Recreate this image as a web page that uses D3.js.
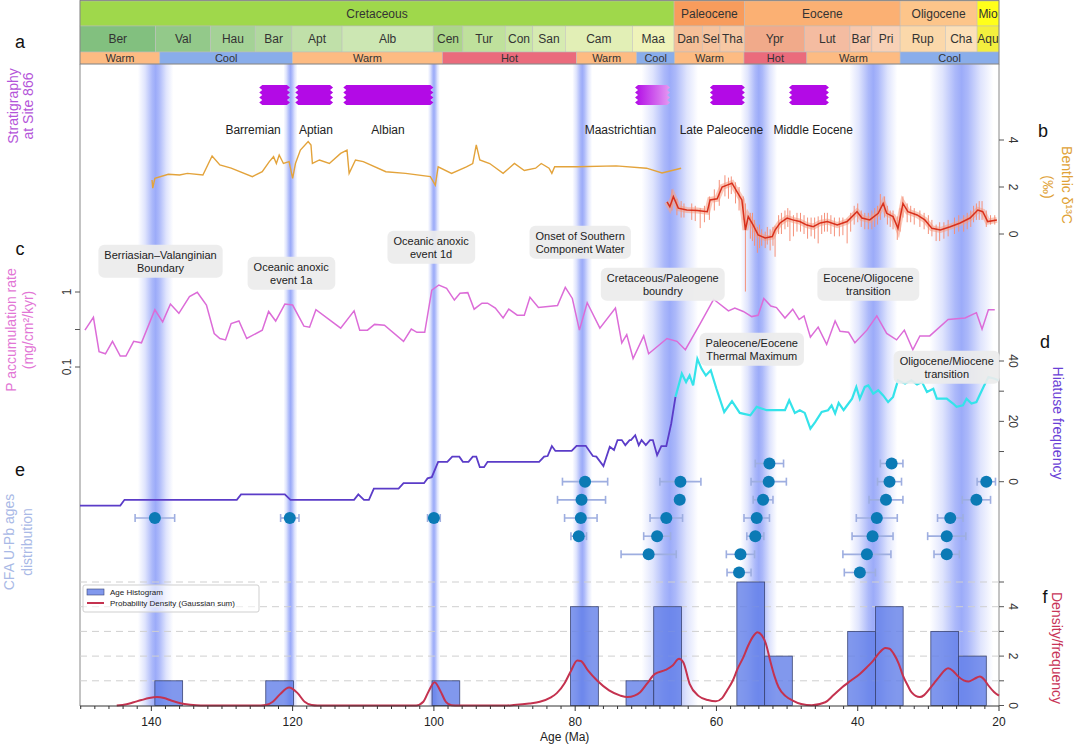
<!DOCTYPE html>
<meta charset="utf-8">
<style>
body { margin: 0; background: #fff; }
svg { font-family: "Liberation Sans", Arial, sans-serif; }
.note rect { fill: #ececec; }
.note text { font-size: 11px; fill: #222; text-anchor: middle; }
</style>
<body>
<script src="https://d3js.org/d3.v7.min.js"></script>
<script>

// ---- time scale rows (ages in Ma) ----
var periodNames = ["Cretaceous", "Paleocene", "Eocene", "Oligocene", "Mio"];
var periodBounds = [150.1, 66.0, 56.0, 34.0, 23.1, 20];
var periodColors = ["#9fd84b", "#f89c5c", "#fbb073", "#fdc58a", "#ffff1a"];

var stageNames = ["Ber","Val","Hau","Bar","Apt","Alb","Cen","Tur","Con","San","Cam","Maa",
                  "Dan","Sel","Tha","Ypr","Lut","Bar","Pri","Rup","Cha","Aqu"];
var stageBounds = [150.1,139.4,131.6,125.3,120.1,113.0,100.1,95.9,89.9,86.0,81.4,71.9,
                   66.0,62.0,59.5,56.0,47.5,41.1,38.0,34.0,27.6,23.1,20];
var stageColors = ["#82c07f","#93c98a","#a4d296","#b1d89f","#c0e0a9","#cce7b3","#acd68a","#bfe19c",
                   "#c9e6a6","#d6ebb1","#e2efb6","#eff3ba","#f5bf98","#f6c49f","#f6c8a4","#f1aa8a",
                   "#f4bca1","#f7c8ad","#f8d1b7","#fbd8aa","#fce0b9","#f3ef3e"];

var climateNames = ["Warm","Cool","Warm","Hot","Warm","Cool","Warm","Hot","Warm","Cool"];
var climateBounds = [150.1,138.8,120.0,98.8,79.8,71.3,65.9,56.1,47.2,34.0,20];
var climateColor = {Warm: "#fdbb82", Cool: "#89adea", Hot: "#ea6b7c"};

// ---- highlighted intervals (blue bands) ----
var bandAge = [139.4, 120.3, 100.0, 79.0, 66.6, 54.0, 37.8, 25.3];
var bandHalf = [2.5, 1.0, 0.85, 1.4, 4.0, 2.6, 3.4, 4.5];

// ---- stratigraphy at Site 866 ----
var stratNames = ["Barremian","Aptian","Albian","Maastrichtian","Late Paleocene","Middle Eocene"];
var stratOld = [124.3, 119.2, 112.4, 71.1, 60.5, 49.3];
var stratYoung = [120.8, 114.7, 100.5, 67.0, 56.4, 44.5];
var stratLabelAge = [125.6, 116.7, 106.5, 73.6, 59.3, 46.3];

// ---- benthic d13C ----
var benthicCretaceous = [[139.9,2.3],[139.8,1.95],[139.5,2.37],[137.6,2.54],[136.0,2.51],[134.9,2.58],[132.7,2.51],
  [131.4,3.32],[130.3,2.94],[128.7,2.8],[125.7,2.44],[124.3,2.65],[123.3,3.08],[122.7,3.29],[122.3,3.0],
  [121.9,3.36],[121.3,3.0],[120.5,3.08],[120.0,2.37],[119.6,3.0],[118.9,3.57],[117.8,3.93],[117.4,3.79],
  [117.2,3.0],[116.2,3.15],[114.8,3.0],[113.2,3.43],[112.3,3.57],[112.0,2.58],[111.1,3.15],[110.0,3.08],
  [106.8,2.65],[104.0,2.58],[100.5,2.44],[99.8,2.08],[99.4,2.86],[97.5,2.58],[95.4,2.86],[94.5,3.0],
  [94.0,3.79],[93.5,3.15],[92.1,3.0],[90.2,2.58],[88.6,3.0],[87.2,2.7],[85.6,2.8],[84.8,3.0],[83.7,2.8],
  [83.3,2.58],[82.9,2.86],[79.7,2.86],[74.2,2.9],[69.9,2.8],[67.7,2.6],[65.0,2.8]];
var benthicCenozoic = [[67.0,1.37],[66.6,1.16],[66.1,1.59],[65.4,1.1],[64.2,1.02],[62.7,1.0],[61.3,0.95],
  [60.9,1.45],[59.9,1.5],[59.2,2.0],[58.5,2.08],[57.8,2.16],[57.1,1.8],[56.4,1.45],[55.9,0.17],[55.5,0.74],
  [54.8,0.38],[54.1,-0.04],[53.1,-0.17],[52.1,-0.11],[51.7,0.17],[51.0,0.47],[50.0,0.68],[49.2,0.6],
  [48.2,0.53],[47.2,0.38],[46.3,0.31],[45.3,0.47],[44.3,0.53],[42.9,0.38],[41.5,0.53],[40.1,0.95],
  [39.4,0.68],[38.3,0.6],[37.1,0.88],[36.4,1.3],[35.9,0.88],[35.0,0.74],[34.3,0.24],[33.6,1.3],[32.9,0.95],
  [31.6,0.81],[30.5,0.6],[29.5,0.24],[28.3,0.17],[26.9,0.31],[25.5,0.47],[24.1,0.68],[23.0,1.02],
  [22.3,0.95],[21.6,0.53],[20.3,0.6]];
// raw-data excursions around the smoothed Cenozoic record: [age, high, low]
var benthicSpikes = [[66.3,1.9,1.0],[65.6,1.5,0.8],[65.0,1.4,0.7],[64.6,1.3,0.7],[63.5,1.3,0.6],[63.0,1.2,0.55],
  [62.3,1.1,0.25],[61.7,1.2,0.5],[61.0,1.6,0.6],[60.3,1.9,1.0],[59.6,2.3,1.2],[58.8,2.5,1.6],[58.3,2.4,1.5],
  [57.9,2.45,1.7],[57.3,2.2,1.3],[56.8,2.0,1.0],[56.2,1.6,0.6],[55.9,1.3,-2.45],[55.2,0.9,-0.2],
  [54.9,0.9,-0.3],[54.6,0.6,-0.5],[54.2,0.3,-0.8],[53.9,0.4,-0.6],[53.6,0.2,-0.5],[53.1,0.1,-0.6],
  [52.8,0.3,-0.45],[52.4,0.2,-0.7],[52.0,0.3,-0.5],[51.7,0.35,-0.97],[51.2,0.8,0.0],[50.8,0.9,0.0],
  [50.3,1.0,0.2],[49.9,1.1,0.3],[49.6,1.0,-0.3],[49.1,0.8,-0.1],[48.6,0.9,0.1],[48.1,0.9,0.1],
  [47.6,0.8,0.0],[47.1,0.7,-0.2],[46.6,0.7,-0.1],[46.1,0.7,-0.2],[45.6,0.75,-0.4],[45.1,0.8,0.0],
  [44.7,0.9,0.1],[44.3,0.9,0.1],[43.8,0.8,0.0],[43.3,0.7,-0.1],[42.6,0.7,-0.1],[42.1,0.7,-0.05],
  [41.5,0.65,-0.4],[41.0,0.9,0.1],[40.5,1.2,0.4],[40.0,1.3,0.5],[39.5,1.0,0.3],[39.0,0.9,0.2],
  [38.5,0.9,0.2],[38.0,1.0,0.2],[37.6,1.1,0.3],[37.2,1.2,0.4],[36.8,1.7,0.6],[36.2,1.6,0.7],
  [35.8,1.2,0.4],[35.4,1.0,0.3],[35.0,1.0,0.2],[34.4,0.75,-0.25],[34.0,1.1,0.1],[33.6,1.6,0.7],
  [33.0,1.3,0.5],[32.5,1.2,0.5],[32.0,1.1,0.4],[31.2,1.0,0.3],[30.6,0.9,0.2],[30.0,0.8,0.0],
  [29.5,0.6,-0.1],[28.9,0.4,-0.3],[28.4,0.5,-0.3],[27.8,0.5,-0.2],[27.2,0.6,-0.1],[26.3,0.7,0.0],
  [25.7,0.8,0.1],[25.0,0.8,0.1],[24.5,0.9,0.2],[24.0,1.0,0.3],[23.6,1.2,0.5],[23.2,1.3,0.6],
  [22.8,1.4,0.6],[22.4,1.4,0.6],[21.8,1.0,0.3],[21.2,0.8,0.4],[20.6,0.8,0.4]];

// ---- P accumulation rate (mg/cm2/kyr) ----
var pRate = [[149.4,0.31],[148.2,0.46],[147.4,0.16],[146.5,0.15],[145.5,0.22],[144.4,0.14],[143.6,0.14],
  [142.5,0.22],[141.4,0.21],[139.5,0.58],[138.4,0.40],[137.3,0.69],[136.1,0.52],[134.6,0.87],[133.5,0.99],
  [132.2,0.67],[131.1,0.28],[130.3,0.24],[129.5,0.23],[128.7,0.38],[127.6,0.41],[126.5,0.24],[124.3,0.31],
  [123.4,0.55],[122.4,0.41],[121.1,0.69],[120.0,0.67],[118.4,0.35],[117.6,0.34],[116.7,0.58],[113.2,0.33],
  [111.3,0.56],[110.5,0.31],[109.4,0.31],[108.4,0.37],[107.0,0.36],[104.3,0.22],[103.2,0.32],[102.4,0.29],
  [101.3,0.29],[100.3,1.06],[99.3,1.24],[98.2,1.12],[97.1,0.78],[96.3,0.96],[95.2,0.98],[94.3,0.59],
  [93.2,0.71],[92.4,0.71],[91.3,0.61],[90.2,0.45],[89.4,0.59],[88.2,0.49],[87.2,0.49],[86.4,0.85],
  [85.2,0.62],[82.5,0.66],[81.4,1.15],[80.4,0.82],[79.4,0.31],[78.3,0.72],[76.5,0.33],[74.3,0.61],
  [73.4,0.21],[72.7,0.27],[71.8,0.13],[70.3,0.26],[69.6,0.15],[67.0,0.24],[65.6,0.22],[64.4,0.17],
  [62.3,0.38],[60.4,0.80],[58.3,0.56],[57.4,0.61],[56.2,0.55],[55.0,0.47],[54.1,0.49],[53.3,0.82],
  [52.3,0.65],[51.5,0.62],[50.3,0.45],[49.2,0.59],[48.3,0.43],[47.6,0.48],[46.7,0.25],[45.6,0.34],
  [44.4,0.20],[43.2,0.41],[42.5,0.30],[41.3,0.29],[40.4,0.21],[38.7,0.31],[37.3,0.48],[35.9,0.28],
  [34.5,0.23],[33.4,0.31],[32.2,0.17],[31.2,0.26],[29.8,0.26],[27.2,0.43],[24.8,0.45],[23.2,0.53],
  [22.4,0.32],[21.5,0.58],[20.6,0.58]];

// ---- hiatus frequency ----
var hiatusMesozoic = [[150.1,-7.9],[144.4,-7.9],[143.8,-6.0],[127.9,-6.0],[127.3,-4.2],[121.1,-4.2],[120.3,-6.0],
  [111.3,-6.0],[110.7,-4.2],[109.9,-6.0],[109.2,-6.0],[108.5,-2.3],[105.0,-2.3],[104.3,-0.5],[101.4,-0.5],
  [100.9,1.1],[100.3,1.5],[99.4,6.6],[98.1,6.6],[97.4,8.3],[96.4,8.3],[95.9,6.6],[95.1,6.6],[94.5,8.3],
  [94.0,8.3],[93.5,4.8],[92.9,4.8],[92.4,6.6],[85.1,6.6],[84.4,8.3],[83.9,8.5],[83.3,11.8],[82.8,10.2],
  [80.5,10.2],[79.8,11.9],[78.5,11.9],[77.5,8.5],[77.0,8.3],[76.0,5.2],[75.1,11.6],[74.5,10.5],[74.0,13.8],
  [73.4,13.8],[72.9,12.1],[72.3,13.8],[72.1,13.8],[71.5,15.4],[71.0,12.1],[70.6,13.8],[70.0,12.1],
  [69.4,13.8],[69.0,13.8],[68.4,8.8],[67.8,11.8],[67.1,11.8],[66.4,19.3],[65.8,28.1]];
var hiatusCenozoic = [[65.8,28.1],[64.9,35.8],[64.3,33.0],[63.8,35.2],[63.3,31.9],[62.7,40.7],[62.1,37.4],
  [61.5,35.2],[60.8,36.9],[60.0,30.8],[58.9,23.1],[57.8,26.7],[56.7,22.8],[55.2,22.0],[54.3,24.8],
  [52.9,23.7],[50.3,23.7],[49.7,27.0],[48.9,22.8],[48.2,23.7],[47.5,22.8],[46.7,17.6],[46.0,19.8],
  [45.1,23.1],[44.2,23.7],[43.7,25.3],[43.2,22.6],[42.7,26.1],[42.0,23.7],[41.6,25.0],[40.8,27.5],
  [40.2,31.4],[39.7,27.5],[39.0,31.4],[38.5,31.9],[37.8,29.2],[37.1,30.3],[36.4,28.6],[35.7,26.4],
  [35.0,28.1],[34.3,33.6],[33.3,32.5],[32.4,33.6],[31.6,32.2],[30.9,33.0],[30.2,29.7],[29.3,30.8],
  [28.8,27.5],[27.4,27.5],[26.5,25.9],[26.0,24.8],[25.1,25.3],[24.6,27.5],[23.9,25.9],[23.2,26.4],
  [22.2,31.4],[21.5,34.7],[20.6,34.1],[20.1,33.6]];

// ---- CFA U-Pb ages (Ma, 2 sigma) ----
var cfaAge = [139.5,120.4,100.0, 78.6,79.1,79.2,79.5, 65.1,65.2,67.1,68.4,69.6,
              52.5,52.6,53.4,54.3,54.5,56.6,56.8, 35.2,35.5,36.0,37.3,37.9,38.7,39.7,
              21.8,23.2,26.9,27.4,27.4];
var cfaErr = [2.8,1.3,0.9, 3.2,3.4,2.3,1.1, 2.9,0.6,2.3,1.9,3.9,
              2.0,2.5,1.4,1.8,1.2,2.0,1.7, 1.6,1.7,2.4,2.9,2.9,3.4,2.2,
              1.3,2.0,1.8,2.7,1.8];
var cfaRow = [3,3,3, 1,2,3,4, 1,2,3,4,5, 0,1,2,3,4,5,6, 0,1,2,3,4,5,6, 1,2,3,4,5];

// ---- age histogram [older edge, younger edge, count] and density ----
var histBins = [[139.5,135.57,1],[123.8,119.88,1],[100.26,96.34,1],[80.65,76.72,4],[72.8,68.88,1],
  [68.88,64.95,4],[57.11,53.18,5],[53.18,49.26,2],[41.42,37.49,3],[37.49,33.57,4],[29.65,25.72,3],[25.72,21.8,2]];
var density = [[144.9,0],[143.5,0.05],[142.5,0.13],[141.4,0.22],[140.3,0.3],[139.2,0.34],[138.2,0.3],
  [137.2,0.2],[135.9,0.09],[134.5,0.03],[133.0,0],[124.5,0],[123.8,0.02],[122.8,0.15],[121.8,0.45],
  [120.5,0.73],[119.3,0.5],[118.3,0.15],[117.3,0.02],[116.5,0],[102.5,0],[101.5,0.15],[100.7,0.6],
  [99.9,0.94],[99.1,0.6],[98.3,0.15],[97.5,0.01],[96.5,0],[90.0,0],[88.7,0.02],[86.5,0.08],[85.0,0.15],
  [83.5,0.32],[82.6,0.5],[81.5,0.9],[80.6,1.4],[79.7,1.82],[79.2,1.8],[78.2,1.42],[76.9,1.01],[75.2,0.61],
  [73.6,0.4],[72.6,0.34],[71.6,0.4],[70.8,0.54],[69.8,0.9],[68.7,1.28],[67.2,1.44],[66.2,1.62],[65.3,1.89],
  [64.7,1.75],[63.8,0.88],[62.6,0.40],[61.2,0.22],[60.1,0.17],[59.2,0.3],[58.5,0.61],[57.7,1.0],[57.0,1.49],
  [56.2,1.95],[55.5,2.43],[54.8,2.8],[54.2,2.97],[53.6,2.85],[53.0,2.5],[52.4,1.82],[51.8,1.2],[51.2,0.74],
  [50.2,0.38],[49.2,0.2],[48.0,0.06],[46.5,0.01],[44.6,0.13],[43.5,0.4],[42.2,0.74],[41.0,1.0],[39.7,1.28],
  [38.7,1.55],[37.8,1.82],[36.9,2.15],[36.1,2.33],[35.5,2.3],[34.9,2.09],[34.2,1.7],[33.6,1.21],[32.9,0.8],
  [32.4,0.54],[31.2,0.34],[30.6,0.42],[30.0,0.61],[29.2,0.9],[28.5,1.15],[27.2,1.51],[26.5,1.4],[25.9,1.21],
  [25.0,1.02],[24.3,0.97],[23.5,1.08],[22.7,1.17],[22.1,1.05],[21.5,0.81],[20.7,0.55],[20.0,0.4]];

// ---- event notes ----
var noteText = [["Berriasian\u2013Valanginian","Boundary"],["Oceanic anoxic","event 1a"],["Oceanic anoxic","event 1d"],
  ["Onset of Southern","Component Water"],["Cretaceous/Paleogene","boundry"],["Eocene/Oligocene","transition"],
  ["Paleocene/Eocene","Thermal Maximum"],["Oligocene/Miocene","transition"]];
var noteAge = [138.7, 120.2, 100.4, 79.3, 67.6, 38.5, 55.0, 27.4];
var noteLineY = [255, 267, 241, 236, 278, 278, 343, 361];   // layout: first text line

var xTicks = [140, 120, 100, 80, 60, 40, 20];

// ================= drawing =================
var svg = d3.select("body").append("svg").attr("width", 1080).attr("height", 746);
var defs = svg.append("defs");

var x = d3.scaleLinear().domain([150.1, 20]).range([80, 999]);
var yB = d3.scaleLinear().domain([0, 4]).range([234, 140]);
var yP = d3.scaleLog().domain([0.1, 1]).range([367, 292]);
var yH = d3.scaleLinear().domain([0, 40]).range([481.7, 361]);
var yD = d3.scaleLinear().domain([0, 5]).range([705.5, 582]);
var yRow = d3.scaleLinear().domain([0, 6]).range([463.5, 572.5]);

var bandGrad = defs.append("linearGradient").attr("id", "band");
[[0,0],[0.2,0.2],[0.4,0.52],[0.5,0.62],[0.6,0.52],[0.8,0.2],[1,0]].forEach(function(s){
  bandGrad.append("stop").attr("offset", s[0]).attr("stop-color", "rgb(95,120,245)").attr("stop-opacity", s[1]);
});
var maaGrad = defs.append("linearGradient").attr("id", "maa");
maaGrad.append("stop").attr("offset", 0).attr("stop-color", "#b20ae6");
maaGrad.append("stop").attr("offset", 1).attr("stop-color", "#e59af2");

// blue bands
svg.append("g").selectAll("rect").data(bandAge).join("rect")
  .attr("x", (d,i) => x(d + bandHalf[i]))
  .attr("width", (d,i) => x(d - bandHalf[i]) - x(d + bandHalf[i]))
  .attr("y", 64).attr("height", 642)
  .attr("fill", "url(#band)");

// time-scale rows
function timeRow(names, bounds, colorOf, y0, h, fs){
  var g = svg.append("g");
  names.forEach(function(n, i){
    var x0 = x(bounds[i]), x1 = x(bounds[i+1]);
    g.append("rect").attr("x", x0).attr("y", y0).attr("width", x1 - x0).attr("height", h)
      .attr("fill", colorOf(n, i)).attr("stroke", "#bdbdbd").attr("stroke-width", 0.5);
    g.append("text").attr("x", (x0 + x1) / 2).attr("y", y0 + h / 2).attr("dy", "0.35em")
      .attr("text-anchor", "middle").attr("font-size", fs).attr("fill", "#333").text(n);
  });
}
timeRow(periodNames, periodBounds, (n,i) => periodColors[i], 1, 25, 12);
timeRow(stageNames, stageBounds, (n,i) => stageColors[i], 26, 26, 12);
timeRow(climateNames, climateBounds, n => climateColor[n], 52, 12, 11);
svg.append("rect").attr("x", 80).attr("y", 0.5).attr("width", 919).attr("height", 63.5)
  .attr("fill", "none").attr("stroke", "#777").attr("stroke-width", 0.8);

// frame lines
svg.append("line").attr("x1", 80).attr("x2", 80).attr("y1", 64).attr("y2", 706).attr("stroke", "#888");
svg.append("line").attr("x1", 999).attr("x2", 999).attr("y1", 64).attr("y2", 706).attr("stroke", "#888");

// stratigraphy bars
function zigBar(x0, x1, y0, y1){
  var n = 8, a = 3, p = [[x0, y0], [x1, y0]];
  for (var k = 1; k <= n; k++) p.push([k % 2 ? x1 + a : x1, y0 + k * (y1 - y0) / n]);
  p.push([x0, y1]);
  for (k = 1; k <= n; k++) p.push([k % 2 ? x0 - a : x0, y1 - k * (y1 - y0) / n]);
  return "M" + p.map(q => q.join(",")).join("L") + "Z";
}
var strat = svg.append("g");
stratNames.forEach(function(n, i){
  strat.append("path").attr("d", zigBar(x(stratOld[i]), x(stratYoung[i]), 85, 105))
    .attr("fill", n === "Maastrichtian" ? "url(#maa)" : "#b30ae6");
  strat.append("text").attr("x", x(stratLabelAge[i])).attr("y", 134).attr("text-anchor", "middle")
    .attr("font-size", 12).attr("fill", "#222").text(n);
});

// benthic d13C
var lineB = d3.line().x(d => x(d[0])).y(d => yB(d[1]));
svg.append("path").attr("d", lineB(benthicCretaceous)).attr("fill", "none")
  .attr("stroke", "#e3a33b").attr("stroke-width", 1.4);
svg.append("path").attr("d", lineB(benthicCenozoic)).attr("fill", "none")
  .attr("stroke", "#f7a48a").attr("stroke-width", 6).attr("stroke-opacity", 0.6);
svg.append("g").selectAll("line").data(benthicSpikes).join("line")
  .attr("x1", d => x(d[0])).attr("x2", d => x(d[0]))
  .attr("y1", d => yB(d[1])).attr("y2", d => yB(d[2]))
  .attr("stroke", "#f5917a").attr("stroke-width", 1);
svg.append("path").attr("d", lineB(benthicCenozoic)).attr("fill", "none")
  .attr("stroke", "#d8301c").attr("stroke-width", 1.5);

// P accumulation
svg.append("path").attr("d", d3.line().x(d => x(d[0])).y(d => yP(d[1]))(pRate))
  .attr("fill", "none").attr("stroke", "#dc6cd8").attr("stroke-width", 1.5);

// hiatus
var lineH = d3.line().x(d => x(d[0])).y(d => yH(d[1]));
svg.append("path").attr("d", lineH(hiatusMesozoic)).attr("fill", "none")
  .attr("stroke", "#5b3cc8").attr("stroke-width", 1.8);
svg.append("path").attr("d", lineH(hiatusCenozoic)).attr("fill", "none")
  .attr("stroke", "#34e3ea").attr("stroke-width", 2.2);

// notes
var notes = svg.append("g").attr("class", "note");
noteText.forEach(function(t, i){
  var g = notes.append("g");
  var cx = x(noteAge[i]), y1 = noteLineY[i];
  var r = g.append("rect");
  var txt = g.append("text");
  t.forEach(function(s, j){
    txt.append("tspan").attr("x", cx).attr("y", y1 + j * 13).attr("dy", "0.35em").text(s);
  });
  var bb = txt.node().getBBox();
  r.attr("x", bb.x - 6).attr("y", bb.y - 4).attr("width", bb.width + 12).attr("height", bb.height + 8)
    .attr("rx", 6).attr("fill-opacity", 0.92);
});

// CFA ages
var cfa = svg.append("g");
cfaAge.forEach(function(a, i){
  var y = yRow(cfaRow[i]), xa = x(a + cfaErr[i]), xb = x(a - cfaErr[i]);
  cfa.append("line").attr("x1", xa).attr("x2", xb).attr("y1", y).attr("y2", y)
    .attr("stroke", "#9eaee0").attr("stroke-width", 1.6);
  [xa, xb].forEach(function(xc){
    cfa.append("line").attr("x1", xc).attr("x2", xc).attr("y1", y - 4).attr("y2", y + 4)
      .attr("stroke", "#9eaee0").attr("stroke-width", 1.6);
  });
});
cfa.selectAll("circle").data(cfaAge).join("circle")
  .attr("cx", d => x(d)).attr("cy", (d,i) => yRow(cfaRow[i])).attr("r", 6)
  .attr("fill", "#0b7ab5");

// histogram grid
svg.append("g").selectAll("line").data([1,2,3,4,5]).join("line")
  .attr("x1", 80).attr("x2", 999).attr("y1", d => yD(d)).attr("y2", d => yD(d))
  .attr("stroke", "#cfcfcf").attr("stroke-dasharray", "7,5");

svg.append("g").selectAll("rect").data(histBins).join("rect")
  .attr("x", d => x(d[0])).attr("width", d => x(d[1]) - x(d[0]))
  .attr("y", d => yD(d[2])).attr("height", d => yD(0) - yD(d[2]))
  .attr("fill", "rgb(98,126,232)").attr("fill-opacity", 0.8)
  .attr("stroke", "#3b4575").attr("stroke-width", 0.8);

svg.append("path").attr("d", d3.line().x(d => x(d[0])).y(d => yD(d[1])).curve(d3.curveMonotoneX)(density))
  .attr("fill", "none").attr("stroke", "#c4324f").attr("stroke-width", 2);

// legend
var lg = svg.append("g");
lg.append("rect").attr("x", 83).attr("y", 585).attr("width", 176).attr("height", 27).attr("rx", 2)
  .attr("fill", "#fff").attr("fill-opacity", 0.6).attr("stroke", "#cfcfcf");
lg.append("rect").attr("x", 87).attr("y", 589).attr("width", 17).attr("height", 6)
  .attr("fill", "rgb(98,126,232)").attr("fill-opacity", 0.8).attr("stroke", "#3b4575").attr("stroke-width", 0.6);
lg.append("line").attr("x1", 87).attr("x2", 104).attr("y1", 603).attr("y2", 603)
  .attr("stroke", "#c4324f").attr("stroke-width", 2);
lg.append("text").attr("x", 110).attr("y", 595).attr("font-size", 8).attr("fill", "#222").text("Age Histogram");
lg.append("text").attr("x", 110).attr("y", 606).attr("font-size", 8).attr("fill", "#222")
  .text("Probability Density (Gaussian sum)");

// x axis
var ax = svg.append("g");
ax.append("line").attr("x1", 80).attr("x2", 999).attr("y1", 706).attr("y2", 706).attr("stroke", "#333");
ax.selectAll(".minor").data(d3.range(20, 151, 2)).join("line")
  .attr("x1", d => x(d)).attr("x2", d => x(d)).attr("y1", 706).attr("y2", d => d % 20 ? 709 : 711)
  .attr("stroke", "#333");
ax.selectAll("text").data(xTicks).join("text")
  .attr("x", d => x(d)).attr("y", 726).attr("text-anchor", "middle")
  .attr("font-size", 12).attr("fill", "#222").text(d => d);
svg.append("text").attr("x", 540).attr("y", 741).attr("font-size", 12).attr("fill", "#222").text("Age (Ma)");

// vertical axes ticks
function rText(px, py, ang, str, color, fs){
  return svg.append("text").attr("transform", "translate(" + px + "," + py + ") rotate(" + ang + ")")
    .attr("text-anchor", "middle").attr("dy", "0.35em").attr("font-size", fs).attr("fill", color).text(str);
}
function rightTicks(scale, vals, labelled){
  vals.forEach(function(v){
    svg.append("line").attr("x1", 999).attr("x2", 1004).attr("y1", scale(v)).attr("y2", scale(v)).attr("stroke", "#555");
    if (labelled.indexOf(v) >= 0) rText(1013, scale(v), 90, v, "#333", 12);
  });
}
rightTicks(yB, [0, 2, 4], [0, 2, 4]);
rightTicks(yH, [0, 10, 20, 30, 40], [0, 20, 40]);
rightTicks(yD, [0, 1, 2, 3, 4, 5], [0, 2, 4]);
[1, Math.sqrt(0.1), 0.1].forEach(function(v){
  svg.append("line").attr("x1", 75).attr("x2", 80).attr("y1", yP(v)).attr("y2", yP(v)).attr("stroke", "#555");
});
rText(67, yP(1), -90, "1", "#333", 12);
rText(67, yP(0.1), -90, "0.1", "#333", 12);

// axis titles
rText(13, 106, -90, "Stratigraphy", "#b455d9", 14);
rText(28, 106, -90, "at Site 866", "#b455d9", 14);
rText(11, 330, -90, "P accumulation rate", "#e276d5", 14);
rText(28, 330, -90, "(mg/cm\u00b2/kyr)", "#e276d5", 14);
rText(9, 542, -90, "CFA  U-Pb ages", "#a9b9e6", 14);
rText(27, 542, -90, "distribution", "#a9b9e6", 14);
rText(1067, 185, 90, "Benthic \u03b4\u00b9\u00b3C", "#e0a237", 14);
rText(1048, 187, 90, "(\u2030)", "#e0a237", 14);
rText(1058, 423, 90, "Hiatuse frequency", "#6b3fd6", 14);
rText(1057, 648, 90, "Density/frequency", "#c83558", 14);

// panel letters
[["a",20,42],["b",1043,131],["c",20,249],["d",1045,342],["e",20,470],["f",1045,597]].forEach(function(p){
  svg.append("text").attr("x", p[1]).attr("y", p[2]).attr("dy", "0.35em").attr("text-anchor", "middle")
    .attr("font-size", 18).attr("fill", "#111").text(p[0]);
});
</script>
</body>
